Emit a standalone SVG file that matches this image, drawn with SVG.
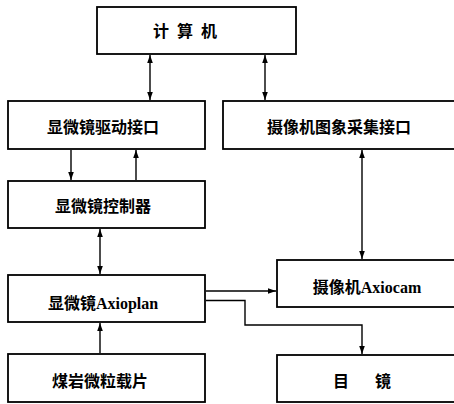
<svg xmlns="http://www.w3.org/2000/svg" width="454" height="404" viewBox="0 0 454 404">
<defs>
<marker id="ah" viewBox="0 0 10 10" refX="10" refY="5" markerWidth="8" markerHeight="8" markerUnits="userSpaceOnUse" orient="auto-start-reverse">
<path d="M0,1.5 L10,5 L0,8.5 Z" fill="#000"/>
</marker>
<style>
.box{fill:#fff;stroke:#000;stroke-width:1.8}
.t{font-family:"Liberation Serif","Noto Sans CJK SC",serif;font-weight:bold;font-size:16px;text-anchor:middle;fill:#000}
.c{fill:none;stroke:#000;stroke-width:1.4}
</style>
</defs>
<rect width="454" height="404" fill="#fff"/>
<g id="connectors">
<line class="c" x1="150" y1="55" x2="150" y2="100" marker-start="url(#ah)" marker-end="url(#ah)"/>
<line class="c" x1="265" y1="55" x2="265" y2="100" marker-start="url(#ah)" marker-end="url(#ah)"/>
<line class="c" x1="71" y1="150" x2="71" y2="180" marker-end="url(#ah)"/>
<line class="c" x1="136" y1="180" x2="136" y2="150" marker-end="url(#ah)"/>
<line class="c" x1="362" y1="150" x2="362" y2="259" marker-start="url(#ah)" marker-end="url(#ah)"/>
<line class="c" x1="100" y1="229" x2="100" y2="274" marker-start="url(#ah)" marker-end="url(#ah)"/>
<line class="c" x1="100" y1="353" x2="100" y2="323" marker-end="url(#ah)"/>
<line class="c" x1="206" y1="291" x2="276" y2="291" marker-end="url(#ah)"/>
<polyline class="c" points="206,300.5 245,300.5 245,325 362,325 362,354" marker-end="url(#ah)"/>
</g>
<g id="computer"><rect class="box" x="97" y="7" width="199" height="47"/><text class="t" x="185" y="37">计<tspan dx="8">算</tspan><tspan dx="8">机</tspan></text></g>
<g id="driver"><rect class="box" x="8" y="101" width="197" height="48"/><text class="t" x="103" y="133">显微镜驱动接口</text></g>
<g id="capture"><rect class="box" x="223" y="101" width="236" height="48"/><text class="t" x="339" y="133">摄像机图象采集接口</text></g>
<g id="controller"><rect class="box" x="8" y="181" width="197" height="47"/><text class="t" x="103" y="212">显微镜控制器</text></g>
<g id="axioplan"><rect class="box" x="8" y="275" width="197" height="47"/><text class="t" x="103" y="309">显微镜Axioplan</text></g>
<g id="axiocam"><rect class="box" x="277" y="260" width="182" height="47"/><text class="t" x="367" y="293">摄像机Axiocam</text></g>
<g id="slide"><rect class="box" x="8" y="354" width="197" height="48"/><text class="t" x="100" y="387">煤岩微粒载片</text></g>
<g id="eyepiece"><rect class="box" x="277" y="355" width="182" height="47"/><text class="t" x="362" y="387">目<tspan dx="26">镜</tspan></text></g>
</svg>
